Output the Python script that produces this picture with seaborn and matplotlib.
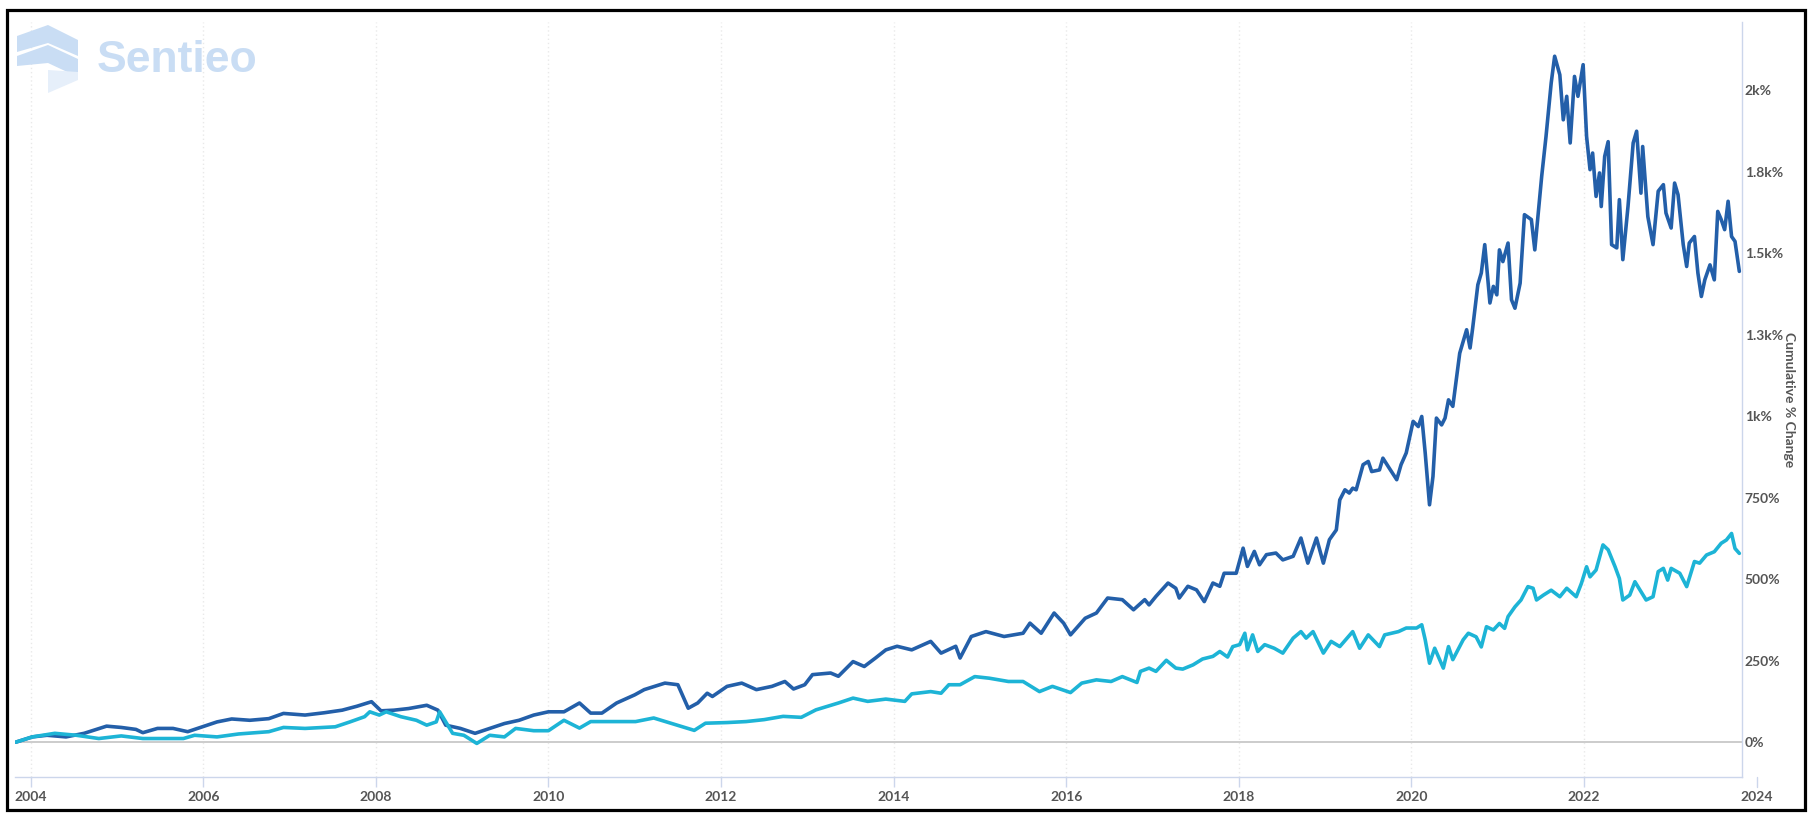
import matplotlib
matplotlib.use("Agg")
import matplotlib.pyplot as plt
import numpy as np
import pandas as pd
import seaborn as sns
from matplotlib.patches import Polygon, Rectangle

# ---------------- data (decimal year, cumulative % change) ----------------
stock_years = [
    2003.83, 2004.02, 2004.19, 2004.41, 2004.62, 2004.88, 2005.05, 2005.22, 2005.30, 2005.47,
    2005.65, 2005.82, 2005.99, 2006.16, 2006.33, 2006.54, 2006.76, 2006.93, 2007.18, 2007.40,
    2007.61, 2007.78, 2007.95, 2008.06, 2008.21, 2008.38, 2008.59, 2008.72, 2008.81, 2008.98,
    2009.15, 2009.32, 2009.49, 2009.66, 2009.83, 2010.00, 2010.18,
    2010.36, 2010.49, 2010.62, 2010.79, 2011.00, 2011.11, 2011.35, 2011.50, 2011.62, 2011.73,
    2011.84, 2011.90, 2012.07, 2012.24, 2012.41, 2012.59, 2012.74, 2012.84, 2012.97, 2013.06,
    2013.27, 2013.36, 2013.53, 2013.66, 2013.79, 2013.91, 2014.04, 2014.21, 2014.43, 2014.55,
    2014.72, 2014.77, 2014.90, 2015.07, 2015.28, 2015.50, 2015.58, 2015.71, 2015.86, 2015.97,
    2016.05, 2016.22, 2016.35, 2016.48, 2016.65, 2016.78, 2016.91,
    2016.96, 2017.04, 2017.18, 2017.27, 2017.31, 2017.41, 2017.51, 2017.60, 2017.70, 2017.78,
    2017.83, 2017.97, 2018.05, 2018.10, 2018.18, 2018.24, 2018.32, 2018.43, 2018.51, 2018.63,
    2018.72, 2018.80, 2018.90, 2018.98, 2019.05, 2019.13, 2019.17, 2019.23, 2019.28, 2019.32,
    2019.36, 2019.44, 2019.50, 2019.54, 2019.63, 2019.67, 2019.73, 2019.83, 2019.88, 2019.94,
    2020.02, 2020.08, 2020.12, 2020.16, 2020.21, 2020.25, 2020.29, 2020.35, 2020.39, 2020.43,
    2020.48, 2020.56,
    2020.64, 2020.68, 2020.71, 2020.77, 2020.81, 2020.85, 2020.91, 2020.95, 2020.99, 2021.02,
    2021.06, 2021.12, 2021.16, 2021.20, 2021.26, 2021.31, 2021.39, 2021.43, 2021.51, 2021.56,
    2021.62, 2021.66, 2021.72, 2021.76, 2021.80, 2021.84, 2021.89, 2021.93, 2021.99, 2022.03,
    2022.07, 2022.10, 2022.14, 2022.18, 2022.20, 2022.24, 2022.28, 2022.32, 2022.38, 2022.41,
    2022.45, 2022.51, 2022.57, 2022.61, 2022.66, 2022.68, 2022.74, 2022.80, 2022.86, 2022.92,
    2022.95, 2023.01, 2023.05, 2023.09, 2023.15, 2023.19, 2023.22, 2023.28, 2023.32, 2023.36,
    2023.40, 2023.46, 2023.51, 2023.55, 2023.59, 2023.63, 2023.67, 2023.71, 2023.75, 2023.80,
]
stock_values = [
    0, 16, 21, 16, 27, 49, 45, 39, 29, 42,
    42, 32, 47, 62, 71, 67, 72, 88, 83, 90,
    98, 110, 124, 96, 98, 103, 113, 98, 52, 42,
    27, 42, 57, 67, 83, 93, 93,
    120, 89, 89, 120, 145, 161, 181, 176, 104, 120,
    150, 140, 171, 181, 161, 171, 186, 163, 176, 207,
    212, 202, 247, 232, 258, 283, 294, 283, 309, 273,
    294, 258, 324, 339, 324, 334, 365, 334, 396, 365,
    329, 380, 396, 442, 437, 406, 437,
    421, 447, 488, 472, 442, 478, 467, 431, 488, 478,
    518, 518, 595, 539, 585, 544, 575, 580, 559, 570,
    626, 549, 626, 549, 621, 651, 743, 774, 764, 779,
    774, 851, 861, 830, 835, 871, 846, 805, 851, 887,
    984, 968, 999, 887, 728, 815, 994, 973, 994, 1050,
    1030, 1193,
    1265, 1209, 1270, 1403, 1439, 1526, 1347, 1398, 1372, 1510,
    1474, 1531, 1357, 1331, 1408, 1618, 1603, 1510, 1736, 1858,
    2022, 2104, 2047, 1909, 1981, 1838, 2042, 1981, 2078, 1858,
    1756, 1807, 1674, 1746, 1643, 1797, 1842, 1526, 1516, 1664,
    1480, 1643, 1838, 1874, 1684, 1827, 1612, 1526, 1690, 1710,
    1623, 1577, 1715, 1679, 1526, 1459, 1531, 1551, 1439, 1367,
    1418, 1464, 1418, 1628, 1603, 1572, 1659, 1551, 1536, 1444,
]

index_years = [
    2003.83, 2004.02, 2004.28, 2004.53, 2004.79, 2005.05, 2005.30, 2005.56, 2005.77, 2005.90,
    2006.16, 2006.41, 2006.76, 2006.93, 2007.18, 2007.53, 2007.70, 2007.87, 2007.93, 2008.04,
    2008.12, 2008.29, 2008.47, 2008.59, 2008.70, 2008.74, 2008.89, 2009.02, 2009.17, 2009.32,
    2009.49, 2009.62, 2009.83, 2010.00, 2010.18,
    2010.36, 2010.49, 2010.71, 2011.01, 2011.22, 2011.48, 2011.69, 2011.82, 2012.07, 2012.29,
    2012.50, 2012.72, 2012.93, 2013.10, 2013.36, 2013.53, 2013.70, 2013.91, 2014.13, 2014.21,
    2014.43, 2014.55, 2014.64, 2014.77, 2014.94, 2015.11, 2015.33, 2015.50, 2015.69, 2015.84,
    2016.05, 2016.18, 2016.35, 2016.52, 2016.65, 2016.82, 2016.86,
    2016.96, 2017.04, 2017.16, 2017.27, 2017.35, 2017.47, 2017.58, 2017.70, 2017.78, 2017.87,
    2017.93, 2018.01, 2018.07, 2018.10, 2018.16, 2018.22, 2018.30, 2018.41, 2018.51, 2018.63,
    2018.72, 2018.78, 2018.86, 2018.98, 2019.07, 2019.17, 2019.32, 2019.40, 2019.50, 2019.63,
    2019.69, 2019.85, 2019.94, 2020.06, 2020.12, 2020.16, 2020.21, 2020.27, 2020.37, 2020.43,
    2020.48, 2020.60, 2020.66,
    2020.75, 2020.81, 2020.87, 2020.95, 2021.02, 2021.08, 2021.12, 2021.20, 2021.27, 2021.35,
    2021.41, 2021.45, 2021.53, 2021.62, 2021.72, 2021.80, 2021.91, 2021.97, 2022.03, 2022.07,
    2022.14, 2022.22, 2022.28, 2022.36, 2022.41, 2022.45, 2022.53, 2022.59, 2022.65, 2022.72,
    2022.80, 2022.86, 2022.92, 2022.97, 2023.01, 2023.11, 2023.19, 2023.28, 2023.34, 2023.42,
    2023.51, 2023.59, 2023.65, 2023.71, 2023.75, 2023.80,
]
index_values = [
    0, 16, 27, 21, 11, 19, 11, 11, 11, 21,
    16, 25, 32, 45, 42, 47, 62, 78, 93, 83,
    93, 78, 67, 52, 62, 93, 27, 21, -4, 21,
    16, 42, 35, 35, 67,
    43, 63, 63, 63, 74, 53, 36, 58, 60, 63,
    69, 79, 76, 99, 120, 135, 125, 132, 125, 148,
    155, 150, 176, 176, 201, 196, 186, 186, 155, 171,
    152, 181, 191, 186, 201, 183, 217,
    227, 217, 251, 227, 224, 237, 255, 263, 278, 261,
    293, 299, 334, 283, 329, 278, 299, 288, 273, 319,
    339, 319, 339, 273, 309, 293, 339, 288, 329, 293,
    329, 339, 350, 350, 360, 314, 242, 288, 227, 293,
    253, 314, 334,
    323, 292, 354, 344, 364, 349, 385, 415, 436, 477,
    472, 436, 451, 466, 446, 472, 446, 487, 538, 507,
    528, 605, 590, 538, 502, 436, 451, 492, 466, 436,
    446, 523, 533, 497, 533, 518, 477, 554, 549, 574,
    584, 610, 620, 640, 594, 579,
]

series_names = ["Stock", "Index"]
series_colors = ["#235fa9", "#1db4d6"]

x_ticks = [2004, 2006, 2008, 2010, 2012, 2014, 2016, 2018, 2020, 2022, 2024]
y_ticks = [0, 250, 500, 750, 1000, 1250, 1500, 1750, 2000]
y_tick_labels = ["0%", "250%", "500%", "750%", "1k%", "1.3k%", "1.5k%", "1.8k%", "2k%"]
y_title = "Cumulative % Change"
watermark = "Sentieo"

# ---------------- figure ----------------
sns.set_theme(style="white")
plt.rcParams['font.family'] = ['Lato', 'DejaVu Sans']

W, H = 1818, 826
fig = plt.figure(figsize=(W / 100, H / 100), dpi=100)
fig.patch.set_facecolor("white")

ax_l, ax_r, ax_t, ax_b = 14.5, 1742, 22, 777
ax = fig.add_axes([ax_l / W, 1 - ax_b / H, (ax_r - ax_l) / W, (ax_b - ax_t) / H])
ax.set_facecolor("white")

df = pd.concat([
    pd.DataFrame({"year": stock_years, "value": stock_values, "series": series_names[0]}),
    pd.DataFrame({"year": index_years, "value": index_values, "series": series_names[1]}),
], ignore_index=True)

ax.axhline(0, color="#c4c4c4", lw=1.2, zorder=1.5)
sns.lineplot(data=df, x="year", y="value", hue="series", hue_order=series_names,
             palette=dict(zip(series_names, series_colors)), estimator=None, sort=False,
             linewidth=2.6, legend=False, ax=ax, zorder=3)

ax.set_xlim(2003.813, 2023.831)
ax.set_ylim(-107, 2209)
ax.set_xlabel("")
ax.set_ylabel("")

label_color = "#555555"
axis_color = "#ccd6eb"

ax.set_xticks(x_ticks[:-1])
ax.set_xticklabels([str(t) for t in x_ticks[:-1]])
ax.tick_params(axis="x", bottom=True, length=7.2, width=1, color=axis_color, pad=3,
               labelsize=10, labelcolor=label_color)
for lab in ax.get_xticklabels():
    lab.set_fontweight("bold")

# last tick (2024) lies just beyond the plot area
t_last = x_ticks[-1]
ax.plot([t_last, t_last], [0, -7.2 / 72 * 100 / (ax_b - ax_t)], transform=ax.get_xaxis_transform(),
        color=axis_color, lw=1, clip_on=False)
ax.annotate(str(t_last), xy=(t_last, 0), xycoords=ax.get_xaxis_transform(),
            xytext=(0, -10.2), textcoords="offset points", ha="center", va="top",
            fontsize=10, color=label_color, fontweight="bold", annotation_clip=False)

ax.yaxis.tick_right()
ax.set_yticks(y_ticks)
ax.set_yticklabels(y_tick_labels)
ax.tick_params(axis="y", length=0, pad=2, labelsize=10, labelcolor=label_color)
for lab in ax.get_yticklabels():
    lab.set_fontweight("bold")
    lab.set_horizontalalignment("left")

ax.grid(False)
ax.xaxis.grid(True, color="#e9e9e9", linestyle=(0, (1, 2)), lw=1)
for s in ["top", "left"]:
    ax.spines[s].set_visible(False)
for s in ["right", "bottom"]:
    ax.spines[s].set_color(axis_color)
    ax.spines[s].set_linewidth(1)

fig.text(1789 / W, 1 - 400 / H, y_title, rotation=270, ha="center", va="center",
         fontsize=10, color=label_color, fontweight="bold")

# ---------------- watermark ----------------
wm_color = "#c9ddf4"
def fpx(pts):
    return [(x / W, 1 - y / H) for x, y in pts]
fig.add_artist(Polygon(fpx([(17, 36), (48, 25), (78, 40), (78, 56), (48, 43), (17, 52)]),
                       closed=True, transform=fig.transFigure, fc=wm_color, ec="none"))
fig.add_artist(Polygon(fpx([(17, 56), (48, 45), (78, 59), (78, 77), (48, 63), (17, 66)]),
                       closed=True, transform=fig.transFigure, fc=wm_color, ec="none"))
fig.add_artist(Polygon(fpx([(48, 70), (78, 72), (78, 80), (48, 93)]),
                       closed=True, transform=fig.transFigure, fc="#e6effa", ec="none"))
fig.text(97 / W, 1 - 72 / H, watermark, fontsize=32, fontweight="bold", color=wm_color,
         family=["Liberation Sans", "DejaVu Sans"], va="baseline", ha="left")

# ---------------- outer frame ----------------
fig.add_artist(Rectangle((7 / W, 1 - 810 / H), (1805 - 7) / W, (810 - 10) / H,
                         transform=fig.transFigure, fill=False, ec="black", lw=2.3))

fig.savefig("out.png", dpi=100, facecolor="white")
